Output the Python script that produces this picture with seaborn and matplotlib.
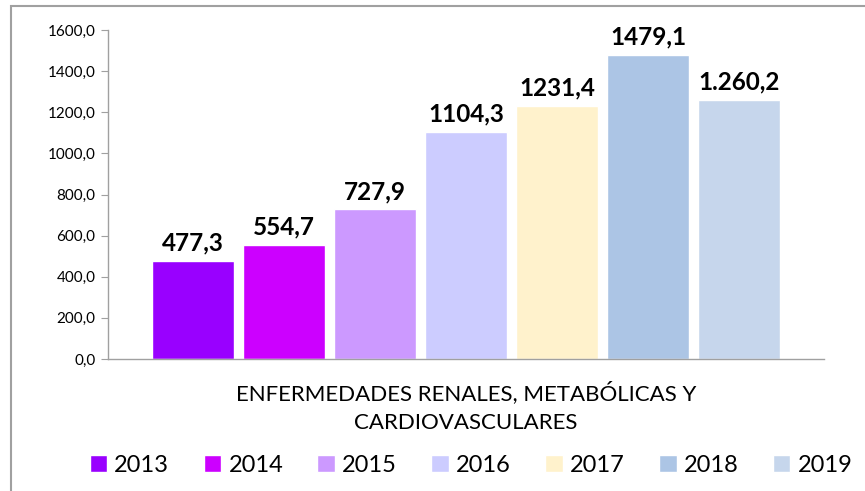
import pandas as pd
import matplotlib.pyplot as plt
import seaborn as sns
from matplotlib.patches import Rectangle

# datos
categoria = 'ENFERMEDADES RENALES, METABÓLICAS Y\nCARDIOVASCULARES'
anios = ['2013', '2014', '2015', '2016', '2017', '2018', '2019']
valores = [477.3, 554.7, 727.9, 1104.3, 1231.4, 1479.1, 1260.2]
etiquetas = ['477,3', '554,7', '727,9', '1104,3', '1231,4', '1479,1', '1.260,2']
colores = ['#9900FF', '#CC00FF', '#CC99FF', '#CCCCFF', '#FFF2CC', '#ACC5E5', '#C6D6EC']
ticks_y = [0, 200, 400, 600, 800, 1000, 1200, 1400, 1600]

df = pd.DataFrame({'cat': [categoria] * len(anios), 'anio': anios, 'valor': valores})

sns.set_style("white")
plt.rcParams['font.family'] = ['Lato', 'DejaVu Sans']

fig = plt.figure(figsize=(8.65, 4.91), dpi=100)
ax = fig.add_axes([108 / 865, 1 - 359 / 491, (824 - 108) / 865, (359 - 30) / 491])

sns.barplot(data=df, x='cat', y='valor', hue='anio', palette=colores,
            width=0.89, gap=0.1, ax=ax, saturation=1, legend=True)

for bar, txt in zip(ax.patches, etiquetas):
    ax.text(bar.get_x() + bar.get_width() / 2, bar.get_height() + 30, txt,
            ha='center', va='bottom', fontsize=17.5, fontweight='bold', color='black')

ax.set_ylim(0, 1600)
ax.set_yticks(ticks_y)
ax.set_yticklabels([f'{v:.1f}'.replace('.', ',') for v in ticks_y], fontsize=11, color='black')
ax.set_xlabel('')
ax.set_ylabel('')
ax.tick_params(axis='y', length=5, color='#A0A0A0', direction='out', left=True, pad=4)
ax.tick_params(axis='x', length=0, pad=16)
for t in ax.get_xticklabels():
    t.set_fontsize(16)
    t.set_linespacing(1.55)
    t.set_color('black')
sns.despine(ax=ax)
for s in ['left', 'bottom']:
    ax.spines[s].set_color('#A0A0A0')
    ax.spines[s].set_linewidth(1)

handles, labels = ax.get_legend_handles_labels()
ax.legend(handles, labels, ncol=7, loc='center', bbox_to_anchor=(471 / 865, 1 - 465 / 491),
          bbox_transform=fig.transFigure, frameon=False, fontsize=17, labelcolor='black',
          handlelength=0.75, handleheight=0.75, handletextpad=0.3, columnspacing=1.45)

# marco del grafico
fig.patches.append(Rectangle((11 / 865, -0.1), 1.2, 1 - 6 / 491 + 0.1,
                             transform=fig.transFigure, fill=False,
                             edgecolor='#A0A0A0', linewidth=1.5, figure=fig))

fig.savefig('out.png', dpi=100)
